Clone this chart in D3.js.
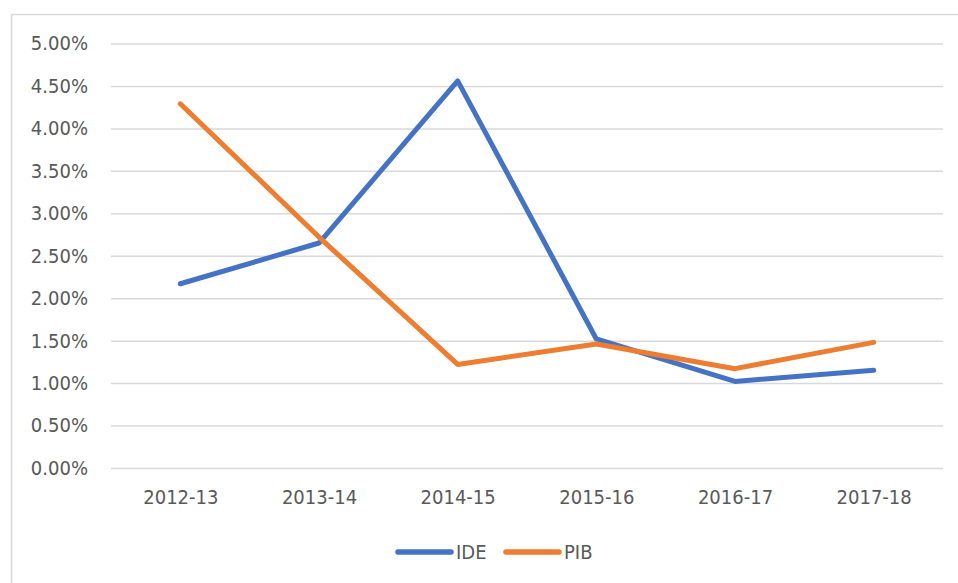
<!DOCTYPE html>
<html>
<head>
<meta charset="utf-8">
<script src="https://cdn.jsdelivr.net/npm/d3@7"></script>
<style>
  body { margin: 0; background: #fff; }
  text { font-family: "DejaVu Sans Condensed", "Liberation Sans Narrow", sans-serif; fill: #595959; }
</style>
</head>
<body>
<div id="chart"></div>
<script>
// line chart: IDE vs PIB growth by fiscal year

var years = ["2012-13", "2013-14", "2014-15", "2015-16", "2016-17", "2017-18"];
var ide = [0.0217, 0.0265, 0.0456, 0.0152, 0.0102, 0.0115];
var pib = [0.0429, 0.0272, 0.0122, 0.0146, 0.0117, 0.0148];
var yTicks = [0, 0.005, 0.01, 0.015, 0.02, 0.025, 0.03, 0.035, 0.04, 0.045, 0.05];

var width = 958, height = 583;
var svg = d3.select("#chart")
    .append("svg")
    .attr("width", width)
    .attr("height", height);

// outer frame of the chart area
svg.append("rect")
    .attr("x", 11.5)
    .attr("y", 14.5)
    .attr("width", 960)
    .attr("height", 580)
    .attr("fill", "none")
    .attr("stroke", "#d9d9d9")
    .attr("stroke-width", 1.5);

var x = d3.scalePoint()
    .domain(years)
    .range([111, 943])
    .padding(0.5);

var y = d3.scaleLinear()
    .domain([0, 0.05])
    .range([468, 43.5]);

// gridlines + y labels
var yAxis = svg.append("g")
    .attr("transform", "translate(111,0)")
    .call(d3.axisLeft(y)
        .tickValues(yTicks)
        .tickSize(-832)
        .tickPadding(23)
        .tickFormat(d3.format(".2%")));
yAxis.select(".domain").remove();
yAxis.selectAll(".tick line")
    .attr("stroke", "#d9d9d9")
    .attr("stroke-width", 1.5);
yAxis.selectAll(".tick text")
    .attr("font-size", 20)
    .attr("fill", "#595959");

// x labels
var xAxis = svg.append("g")
    .attr("transform", "translate(0,468)")
    .call(d3.axisBottom(x).tickSize(0).tickPadding(22));
xAxis.select(".domain").remove();
xAxis.selectAll(".tick text")
    .attr("font-size", 20)
    .attr("fill", "#595959");
svg.selectAll(".tick text").attr("font-family", null);

var series = [
    { name: "IDE", values: ide, color: "#4472C4" },
    { name: "PIB", values: pib, color: "#ED7D31" }
];

var line = d3.line()
    .x(function(d, i) { return x(years[i]); })
    .y(function(d) { return y(d); });

svg.selectAll("path.series")
    .data(series)
    .enter()
    .append("path")
    .attr("class", "series")
    .attr("d", function(s) { return line(s.values); })
    .attr("fill", "none")
    .attr("stroke", function(s) { return s.color; })
    .attr("stroke-width", 5)
    .attr("stroke-linecap", "round")
    .attr("stroke-linejoin", "round");

// legend
var legend = svg.append("g")
    .attr("transform", "translate(398,552)");
var items = legend.selectAll("g")
    .data(series)
    .enter()
    .append("g")
    .attr("transform", function(d, i) { return "translate(" + (i * 108) + ",0)"; });
items.append("line")
    .attr("x1", 0).attr("x2", 53)
    .attr("y1", 0).attr("y2", 0)
    .attr("stroke", function(d) { return d.color; })
    .attr("stroke-width", 5.5)
    .attr("stroke-linecap", "round");
items.append("text")
    .attr("x", 58)
    .attr("dy", "0.36em")
    .attr("font-size", 20)
    .text(function(d) { return d.name; });
</script>
</body>
</html>
